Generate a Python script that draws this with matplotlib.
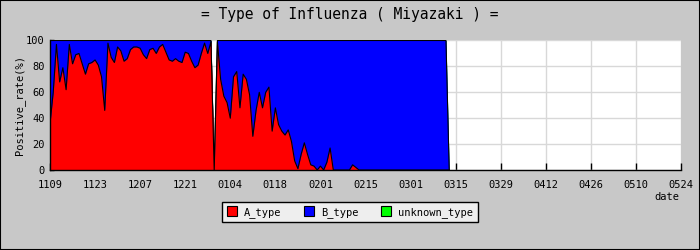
import numpy as np
import pandas as pd
import matplotlib
matplotlib.use("Agg")
import matplotlib.pyplot as plt
import matplotlib.dates as mdates
from matplotlib.patches import Patch, Rectangle

START = "2018-11-09"
END = "2019-05-24"

# daily positive rate (%) by type
a_type = [36, 60, 97, 68, 79, 62, 97, 82, 89, 90,
          82, 74, 82, 83, 85, 81, 72, 46, 98, 87,
          83, 95, 92, 84, 86, 93, 95, 95, 94, 89,
          86, 93, 94, 90, 95, 97, 91, 85, 84, 86,
          84, 83, 91, 90, 84, 79, 81, 90, 98, 90,
          99, 0, 99, 70, 57, 52, 40, 72, 76, 48,
          74, 70, 58, 26, 46, 60, 48, 60, 64, 30,
          48, 35, 30, 27, 31, 22, 7, 1, 12, 21,
          12, 4, 3, 0, 3, 0, 6, 17, 0, 0,
          0, 0, 0, 0, 4, 2, 0, 0, 0, 0,
          0, 0, 0, 0, 0, 0, 0, 0, 0, 0,
          0, 0, 0, 0, 0, 0, 0, 0, 0, 0,
          0, 0, 0, 0, 0]
b_type = [64, 40, 3, 32, 21, 38, 3, 18, 11, 10,
          18, 26, 18, 17, 15, 19, 28, 54, 2, 13,
          17, 5, 8, 16, 14, 7, 5, 5, 6, 11,
          14, 7, 6, 10, 5, 3, 9, 15, 16, 14,
          16, 17, 9, 10, 16, 21, 19, 10, 2, 10,
          1, 0, 1, 30, 43, 48, 60, 28, 24, 52,
          26, 30, 42, 74, 54, 40, 52, 40, 36, 70,
          52, 65, 70, 73, 69, 78, 93, 99, 88, 79,
          88, 96, 97, 100, 97, 100, 94, 83, 100, 100,
          100, 100, 100, 100, 96, 98, 100, 100, 100, 100,
          100, 100, 100, 100, 100, 100, 100, 100, 100, 100,
          100, 100, 100, 100, 100, 100, 100, 100, 100, 100,
          100, 100, 100, 100, 0]
unknown_type = [0] * len(a_type)

labels = ["A_type", "B_type", "unknown_type"]
colors = ["#ff0000", "#0000ff", "#00ff00"]

FONT = "DejaVu Sans Mono"
BG = "#c8c8c8"

dates = pd.date_range(START, periods=len(a_type), freq="D")
a = np.array(a_type, dtype=float)
ab = a + np.array(b_type, dtype=float)
total = ab + np.array(unknown_type, dtype=float)

fig = plt.figure(figsize=(7, 2.5), dpi=100, facecolor=BG)
ax = fig.add_axes([50 / 700, 80 / 250, 631 / 700, 129.5 / 250])
ax.set_facecolor("white")

# draw top layer first, lower layers over it (accumulated area style)
ax.fill_between(dates, 0, total, color=colors[2], lw=0, zorder=2)
ax.fill_between(dates, 0, ab, color=colors[1], lw=0, zorder=3)
ax.plot(dates, ab, color="black", lw=0.8, zorder=4)
ax.fill_between(dates, 0, a, color=colors[0], lw=0, zorder=5)
ax.plot(dates, a, color="black", lw=0.8, zorder=6)

ax.set_xlim(pd.Timestamp(START), pd.Timestamp(END))
ax.set_ylim(0, 100)
ax.set_xticks(pd.date_range(START, END, freq="14D"))
ax.xaxis.set_major_formatter(mdates.DateFormatter("%m%d"))
ax.set_yticks(range(0, 101, 20))
ax.set_yticks(range(0, 101, 10), minor=True)

ax.grid(True, which="major", color="#d8d8d8", lw=1, zorder=1)
ax.set_axisbelow(True)
for s in ["top", "right"]:
    ax.spines[s].set_visible(False)
for s in ["left", "bottom"]:
    ax.spines[s].set_color("black")
    ax.spines[s].set_linewidth(1)
    ax.spines[s].set_zorder(7)

ax.tick_params(axis="x", direction="in", length=5, width=1, pad=7, labelsize=7.5)
ax.tick_params(axis="y", which="both", direction="in", length=3, width=1, pad=4, labelsize=7.5)
for t in ax.get_xticklabels() + ax.get_yticklabels():
    t.set_fontfamily(FONT)

fig.text(0.5, 1 - 15 / 250, "= Type of Influenza ( Miyazaki ) =",
         ha="center", va="center", fontsize=10.5, family=FONT)
fig.text(20 / 700, 1 - 105 / 250, "Positive_rate(%)", rotation=90,
         ha="center", va="center", fontsize=7.5, family=FONT)
fig.text(667 / 700, 1 - 197 / 250, "date", ha="center", va="center",
         fontsize=7.5, family=FONT)

handles = [Patch(facecolor=c, edgecolor="black", lw=0.8) for c in colors]
leg = fig.legend(handles, labels, loc="center", bbox_to_anchor=(350 / 700, 1 - 212 / 250),
                 ncol=3, frameon=True, fancybox=False, shadow=False,
                 handlelength=1.0, handleheight=1.0, handletextpad=0.7,
                 columnspacing=2.1, borderpad=0.45,
                 prop={"family": FONT, "size": 7.5})
leg.get_frame().set_facecolor("#eeeeee")
leg.get_frame().set_edgecolor("black")
leg.get_frame().set_linewidth(1)
leg.get_frame().set_alpha(1)

fig.patches.append(Rectangle((0, 0), 1, 1, transform=fig.transFigure, fill=False,
                             edgecolor="black", lw=1.5))

fig.savefig("out.png", dpi=100, facecolor=BG)
